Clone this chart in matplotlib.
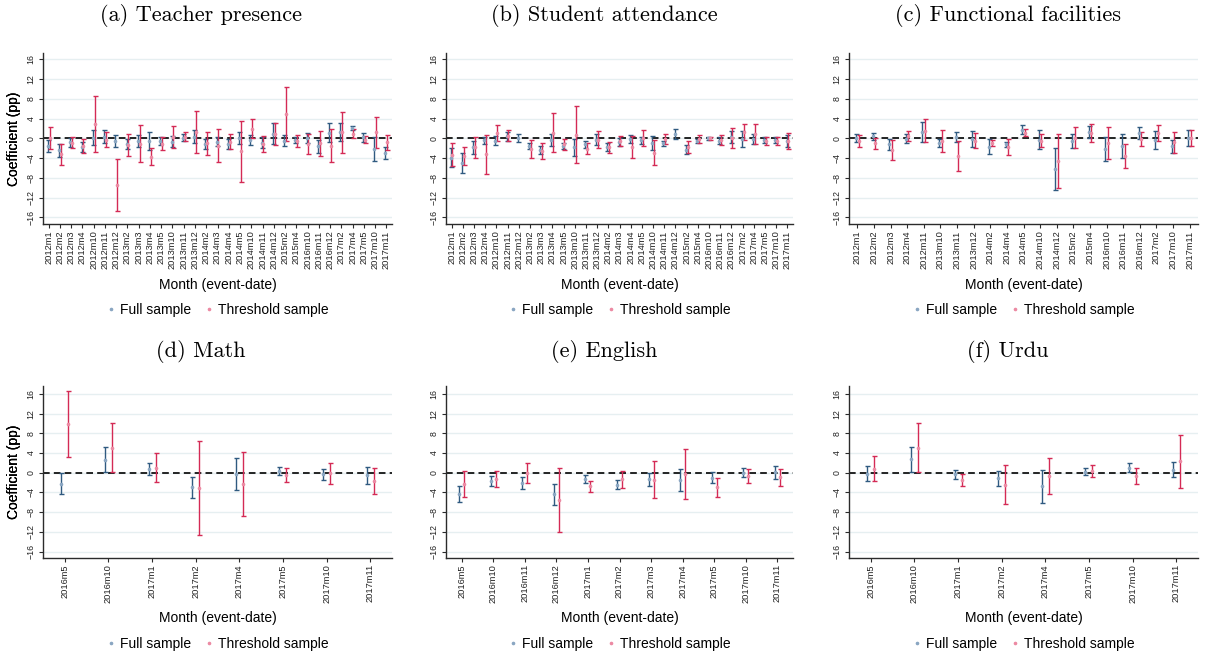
import numpy as np
import matplotlib
matplotlib.use('Agg')
import matplotlib.pyplot as plt
from matplotlib.lines import Line2D

plt.rcParams['font.family'] = ['Liberation Sans', 'DejaVu Sans']

nan = np.nan

# (a) Teacher presence
cats_a = ['2012m1', '2012m2', '2012m3', '2012m4', '2012m10', '2012m11', '2012m12',
          '2013m2', '2013m3', '2013m4', '2013m5', '2013m10', '2013m11', '2013m12',
          '2014m2', '2014m3', '2014m4', '2014m5', '2014m10', '2014m11', '2014m12',
          '2015m2', '2015m4', '2016m10', '2016m11', '2016m12', '2017m2', '2017m4',
          '2017m5', '2017m10', '2017m11']
full_lo_a = [-2.7, -3.7, -1.8, -2.7, -1.4, -0.9, -1.7, -2.2, -1.8, -2.4, -1.3, -1.8, -0.5, -1.0, -2.2, -1.6,
             -2.2, -1.2, -1.4, -2.0, -1.2, -1.6, -1.0, -1.0, -3.0, -0.75, -0.5, 1.6, -0.7, -4.5, -4.2]
full_hi_a = [-0.3, -1.2, 0.1, -0.8, 1.6, 1.6, 0.7, -0.1, 0.75, 1.3, 0.3, 0.5, 0.8, 1.6, -0.1, 0.3,
             -0.1, 1.2, 0.75, 0.2, 3.0, 0.7, 0.3, 1.0, -0.3, 3.0, 3.2, 2.5, 1.1, 0.3, -1.7]
thr_lo_a = [-2.2, -5.4, -2.0, -2.9, -2.7, -1.7, -14.7, -3.5, -4.9, -5.4, -2.4, -2.0, -0.5, -2.9, -3.3, -4.9,
            -2.2, -8.8, 0.0, -2.8, -1.4, -0.5, -1.7, -3.2, -3.6, -4.9, -2.9, 0.0, -1.0, -2.0, -2.4]
thr_hi_a = [2.2, -1.1, 0.2, -0.2, 8.5, 1.2, -4.2, 0.9, 2.7, -2.0, 0.2, 2.4, 1.2, 5.6, 1.2, 1.9,
            0.9, 3.6, 3.9, 0.5, 3.0, 10.4, 0.75, 0.9, 1.5, 1.8, 5.4, 1.8, 0.5, 4.4, 0.7]

# (b) Student attendance
cats_b = cats_a
full_lo_b = [-5.9, -7.0, -3.2, -1.1, -1.4, -0.5, -0.8, -2.2, -3.2, -1.6, -2.2, -3.5, -2.0, -1.4, -2.5, -1.6,
             -0.9, -1.1, -2.4, -1.6, -0.2, -3.2, -1.0, -0.3, -1.2, -1.0, -1.7, -1.2, -1.0, -1.0, -1.7]
full_hi_b = [-2.0, -3.0, -0.5, 0.3, 0.5, 1.3, 0.9, -1.0, -1.6, 0.9, -1.0, -0.1, -0.5, 0.9, -1.0, 0.0,
             0.7, 0.3, 0.5, -0.5, 1.8, -1.4, -0.1, 0.3, 0.3, 1.4, 1.4, 0.8, 0.3, 0.2, 0.7]
thr_lo_b = [-5.6, -5.4, -3.9, -7.2, -0.5, -0.5, nan, -3.9, -4.2, -2.8, -2.4, -5.1, -3.2, -2.0, -3.0, -1.6,
            -3.9, -1.6, -5.5, -1.2, nan, -2.9, -1.0, -0.3, -1.4, -2.0, -0.3, -1.2, -1.4, -1.4, -2.2]
thr_hi_b = [-1.0, -1.7, 0.3, 0.7, 2.7, 1.6, nan, -0.3, -1.0, 5.1, -0.1, 6.6, -1.0, 1.4, -0.7, 0.5,
            0.5, 1.6, -0.3, 0.8, nan, -0.5, 0.7, 0.3, 0.7, 2.0, 2.9, 2.9, 0.2, 0.3, 1.0]

# (c) Functional facilities
cats_c = ['2012m1', '2012m2', '2012m3', '2012m4', '2012m11', '2013m10', '2013m11', '2013m12',
          '2014m2', '2014m4', '2014m5', '2014m10', '2014m12', '2015m2', '2015m4', '2016m10',
          '2016m11', '2016m12', '2017m2', '2017m10', '2017m11']
full_lo_c = [-0.7, -0.3, -2.4, -1.0, -0.7, -1.8, -0.8, -1.7, -3.2, -1.8, 0.8,
             -2.2, -10.4, -2.0, 0.1, -4.6, -3.9, -0.1, -2.2, -2.9, -1.5]
full_hi_c = [0.8, 1.1, -0.1, 0.9, 3.4, -0.1, 1.2, 1.5, -0.2, -0.7, 2.7,
             1.7, -2.0, 0.9, 2.5, 0.3, 0.9, 2.2, 1.4, -0.3, 1.7]
thr_lo_c = [-1.7, -2.2, -4.3, -0.5, -0.8, -2.8, -6.6, -2.0, -1.5, -3.4, 0.5,
            -1.8, -10.0, -2.0, -0.7, -4.2, -6.0, -1.6, -0.5, -2.9, -1.6]
thr_hi_c = [0.7, 0.1, -0.3, 1.5, 3.9, 1.6, -0.5, 1.0, -0.3, -0.1, 1.8,
            0.8, 0.8, 2.2, 2.9, 2.2, -1.2, 1.2, 2.7, 1.2, 1.7]

# (d) Math
cats_d = ['2016m5', '2016m10', '2017m1', '2017m2', '2017m4', '2017m5', '2017m10', '2017m11']
full_lo_d = [-4.4, 0.1, -0.5, -5.1, -3.5, -0.4, -1.4, -2.2]
full_hi_d = [-0.1, 5.2, 2.0, -0.8, 2.9, 1.1, 0.8, 1.1]
thr_lo_d = [3.1, 0.1, -1.9, -12.6, -8.8, -1.8, -2.2, -4.4]
thr_hi_d = [16.5, 10.0, 4.0, 6.5, 4.3, 1.0, 1.9, 0.9]

# (e) English
cats_e = ['2016m5', '2016m10', '2016m11', '2016m12', '2017m1', '2017m2', '2017m3',
          '2017m4', '2017m5', '2017m10', '2017m11']
full_lo_e = [-5.9, -2.6, -3.2, -6.6, -2.0, -3.4, -2.7, -3.7, -2.1, -0.9, -1.2]
full_hi_e = [-2.7, -0.6, -0.9, -2.2, -0.5, -1.4, 0.0, 0.7, 0.1, 0.9, 1.3]
thr_lo_e = [-5.0, -2.8, -2.0, -12.1, -3.9, -3.0, -5.1, -5.4, -4.9, -2.1, -2.6]
thr_hi_e = [0.3, 0.4, 2.0, 1.0, -1.6, 0.3, 2.3, 4.8, -1.0, 0.8, 0.8]

# (f) Urdu
cats_f = cats_d
full_lo_f = [-1.7, 0.1, -1.2, -2.6, -6.1, -0.4, 0.1, -0.9]
full_hi_f = [1.3, 5.3, 0.6, 0.3, 0.6, 0.9, 2.0, 2.2]
thr_lo_f = [-1.7, 0.1, -2.6, -6.4, -4.4, -0.8, -2.2, -3.0]
thr_hi_f = [3.4, 10.0, -0.2, 1.6, 3.0, 1.5, 0.9, 7.6]

titles = ['(a) Teacher presence', '(b) Student attendance', '(c) Functional facilities',
          '(d) Math', '(e) English', '(f) Urdu']
panels = [
    (cats_a, full_lo_a, full_hi_a, thr_lo_a, thr_hi_a),
    (cats_b, full_lo_b, full_hi_b, thr_lo_b, thr_hi_b),
    (cats_c, full_lo_c, full_hi_c, thr_lo_c, thr_hi_c),
    (cats_d, full_lo_d, full_hi_d, thr_lo_d, thr_hi_d),
    (cats_e, full_lo_e, full_hi_e, thr_lo_e, thr_hi_e),
    (cats_f, full_lo_f, full_hi_f, thr_lo_f, thr_hi_f),
]

blue, blue_pt = '#2f5a80', '#8aa6c2'
red, red_pt = '#d42a55', '#ec8aa3'

W, H = 1210, 658
fig = plt.figure(figsize=(W / 100, H / 100), dpi=100)

# pixel layout of the 2x3 grid
cols = [(43, 392), (446, 793), (849, 1198)]
rows = [(53, 224, (-17.36, 17.28)), (386, 558, (-17.3, 17.6))]
title_base = [21, 357]
col_centers = [201, 604, 1008]
legend_y = [310, 644]
xlabel_y = [285, 618]


def draw_ci(ax, x, lo, hi, line_col, pt_col):
    lo = np.asarray(lo, dtype=float)
    hi = np.asarray(hi, dtype=float)
    ok = ~np.isnan(lo)
    mid = (lo + hi) / 2
    ax.errorbar(x[ok], mid[ok], yerr=[mid[ok] - lo[ok], hi[ok] - mid[ok]],
                fmt='o', ms=1.6, mfc=pt_col, mec=pt_col, ecolor=line_col,
                elinewidth=1.0, capsize=1.8, capthick=1.0, zorder=3)


for i, (cats, flo, fhi, tlo, thi) in enumerate(panels):
    r, c = divmod(i, 3)
    x0, x1 = cols[c]
    ytop, ybot, ylim = rows[r]
    ax = fig.add_axes([x0 / W, 1 - ybot / H, (x1 - x0) / W, (ybot - ytop) / H])

    x = np.arange(len(cats))
    ax.axhline(0, color='black', lw=1.2, ls=(0, (4, 2.5)), zorder=2)
    draw_ci(ax, x - 0.08, flo, fhi, blue, blue_pt)
    draw_ci(ax, x + 0.08, tlo, thi, red, red_pt)

    ax.set_xlim(-0.5, len(cats) - 0.5)
    ax.set_ylim(*ylim)
    ax.set_yticks(np.arange(-16, 17, 4))
    ax.set_xticks(x)
    ax.set_xticklabels(cats)
    ax.yaxis.grid(True, color='#e6eff1', lw=1.0)
    ax.set_axisbelow(True)

    for s in ['top', 'right']:
        ax.spines[s].set_visible(False)
    for s in ['left', 'bottom']:
        ax.spines[s].set_color('#2b2b2b')
        ax.spines[s].set_linewidth(1.0)
    ax.tick_params(axis='x', labelrotation=90, labelsize=6.7, length=3, width=0.8,
                   color='#2b2b2b', pad=1.5, labelcolor='#222222')
    ax.tick_params(axis='y', labelrotation=90, labelsize=6.3, length=3, width=0.8,
                   color='#2b2b2b', pad=2.5, labelcolor='#222222')
    for lab in ax.get_yticklabels():
        lab.set_va('center')

    ax.set_ylabel('Coefficient (pp)', fontsize=10)
    ax.yaxis.set_label_coords((14 - x0) / (x1 - x0), 0.5)
    ax.yaxis.label.set_va('center')
    ax.set_xlabel('Month (event-date)', fontsize=10)
    ax.xaxis.set_label_coords(0.5, (ybot - xlabel_y[r]) / (ybot - ytop))
    ax.xaxis.label.set_va('center')

    fig.text(col_centers[c] / W, 1 - title_base[r] / H, titles[i],
             fontfamily='cmr10', fontsize=16, ha='center', va='baseline')

    handles = [Line2D([], [], ls='none', marker='o', ms=1.6, color=blue_pt),
               Line2D([], [], ls='none', marker='o', ms=1.6, color=red_pt)]
    fig.legend(handles, ['Full sample', 'Threshold sample'], ncol=2, frameon=False,
               fontsize=10, loc='center', handlelength=0.6, handletextpad=0.35,
               columnspacing=1.0,
               bbox_to_anchor=((x0 + x1) / 2 / W, 1 - legend_y[r] / H))

fig.savefig('out.png', dpi=100)
